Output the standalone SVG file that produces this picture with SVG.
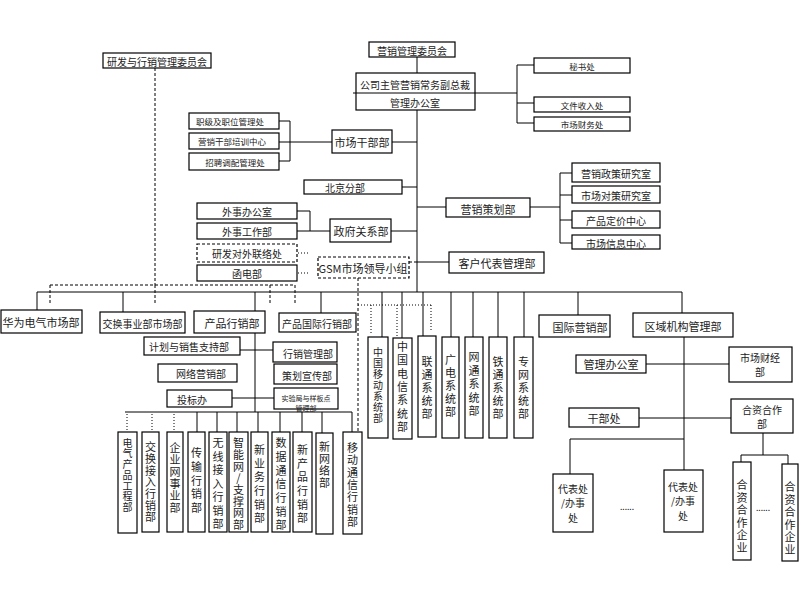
<svg xmlns="http://www.w3.org/2000/svg" width="800" height="600" viewBox="0 0 800 600">
<style>
.b{fill:#fff;stroke:#000;stroke-width:1.2}
.d{fill:#fff;stroke:#000;stroke-width:1.2;stroke-dasharray:3 2}
.l{fill:none;stroke:#000;stroke-width:1}
.dl{fill:none;stroke:#000;stroke-width:1;stroke-dasharray:3 2}
.dt{fill:none;stroke:#000;stroke-width:1;stroke-dasharray:1 2}
text{font-family:"Noto Sans CJK SC","Liberation Sans",sans-serif;fill:#222;text-anchor:middle;dominant-baseline:central}
text.v{writing-mode:vertical-rl;text-orientation:upright;text-anchor:start}
.s8{font-size:8.5px}
.s10{font-size:10px}
.s11{font-size:11px}
.s7{font-size:7px}
</style>
<rect width="800" height="600" fill="#fff"/>

<g id="connectors">
  <path class="dl" d="M155,68 V285 M50,285 H295 M50,285 V303 M155,285 V303 M270,285 V303 M295,285 V303"/>
  <path class="l" d="M417,57 V73 M417,110 V292"/>
  <path class="l" d="M353,93 H356 M475,93 H517 M517,65 V123 M517,65 H534 M517,103 H534 M517,123 H534"/>
  <path class="l" d="M392,142 H417 M279,142 H332 M290,121 V161 M279,121 H290 M279,161 H290"/>
  <path class="l" d="M402,187 H417"/>
  <path class="l" d="M417,207 H446 M530,207 H560 M560,173 V243 M560,173 H572 M560,195 H572 M560,220 H572 M560,243 H572"/>
  <path class="l" d="M391,231 H417 M297,231 H330 M310,211 V231 M297,211 H310"/>
  <path class="dt" d="M298,253 H310 M298,273 H310"/>
  <path class="dl" d="M409,262 H417 M358,278 V432"/>
  <path class="l" d="M417,262 H449"/>
  <path class="l" d="M37,292 H682 M37,292 V310 M123,292 V312 M255,292 V311 M321,292 V313 M382,292 V337 M402,292 V338 M423,292 V336 M451,292 V337 M473,292 V337 M498,292 V337 M524,292 V337 M578,292 V315 M682,292 V313"/>
  <path class="dt" d="M358,305 H432 M371,305 V334 M397,305 V337 M431,305 V330"/>
  <path class="l" d="M255,333 V412 M240,350 H273 M232,398 H274 M125,412 H352"/>
  <path class="l" d="M197,412 V432 M217,412 V432 M237,412 V432 M258,412 V432 M280,412 V432 M302,412 V432 M322,412 V433 M352,412 V432"/>
  <path class="dt" d="M127,414 V432 M152,414 V432 M174,414 V432"/>
  <path class="l" d="M684,337 V470 M646,364 H729 M639,418 H731 M570,439 H684 M570,439 V474"/>
  <path class="l" d="M763,433 V455 M741,455 H788 M741,455 V462 M788,455 V464"/>
</g>

<g id="n_rd_committee"><rect class="b" x="103" y="53" width="108" height="15"/><text class="s10" x="157" y="61">研发与行销管理委员会</text></g>
<g id="n_mkt_committee"><rect class="b" x="369" y="42" width="86" height="15"/><text class="s10" x="412" y="50">营销管理委员会</text></g>
<g id="n_vp"><rect class="b" x="356" y="73" width="119" height="37"/><line class="l" x1="356" y1="93" x2="475" y2="93"/><text class="s10" x="415" y="84">公司主管营销常务副总裁</text><text class="s10" x="415" y="102">管理办公室</text></g>
<g id="n_secretary"><rect class="b" x="534" y="58" width="96" height="15"/><text class="s8" x="582" y="66">秘书处</text></g>
<g id="n_docs"><rect class="b" x="534" y="97" width="96" height="15"/><text class="s8" x="582" y="105">文件收入处</text></g>
<g id="n_finance_office"><rect class="b" x="534" y="117" width="96" height="14"/><text class="s8" x="582" y="124">市场财务处</text></g>

<g id="n_rank"><rect class="b" x="189" y="113" width="90" height="16"/><text class="s8" x="230" y="121">职级及职位管理处</text></g>
<g id="n_training"><rect class="b" x="189" y="133" width="90" height="16"/><text class="s8" x="232" y="141">营销干部培训中心</text></g>
<g id="n_recruit"><rect class="b" x="189" y="153" width="90" height="17"/><text class="s8" x="235" y="162">招聘调配管理处</text></g>
<g id="n_cadre"><rect class="b" x="332" y="130" width="60" height="23"/><text class="s11" x="362" y="142">市场干部部</text></g>
<g id="n_beijing"><rect class="b" x="304" y="180" width="98" height="14"/><text class="s10" x="345" y="187">北京分部</text></g>
<g id="n_planning"><rect class="b" x="446" y="198" width="84" height="19"/><text class="s11" x="488" y="209">营销策划部</text></g>
<g id="n_policy"><rect class="b" x="572" y="163" width="88" height="19"/><text class="s10" x="616" y="173">营销政策研究室</text></g>
<g id="n_strategy"><rect class="b" x="572" y="186" width="88" height="17"/><text class="s10" x="616" y="195">市场对策研究室</text></g>
<g id="n_pricing"><rect class="b" x="572" y="211" width="88" height="17"/><text class="s10" x="616" y="220">产品定价中心</text></g>
<g id="n_info"><rect class="b" x="572" y="235" width="88" height="14"/><text class="s10" x="616" y="243">市场信息中心</text></g>
<g id="n_foreign_office"><rect class="b" x="197" y="203" width="100" height="16"/><text class="s10" x="247" y="211">外事办公室</text></g>
<g id="n_foreign_work"><rect class="b" x="197" y="223" width="100" height="16"/><text class="s10" x="247" y="231">外事工作部</text></g>
<g id="n_rd_liaison"><rect class="d" x="197" y="244" width="100" height="18"/><text class="s10" x="247" y="253">研发对外联络处</text></g>
<g id="n_mail"><rect class="b" x="197" y="265" width="100" height="16"/><text class="s10" x="247" y="273">函电部</text></g>
<g id="n_gov"><rect class="b" x="330" y="219" width="61" height="23"/><text class="s11" x="361" y="231">政府关系部</text></g>
<g id="n_gsm"><rect class="d" x="318" y="257" width="91" height="21"/><text class="s11" x="363" y="268">GSM市场领导小组</text></g>
<g id="n_customer"><rect class="b" x="449" y="252" width="95" height="21"/><text class="s11" x="497" y="263">客户代表管理部</text></g>

<g id="n_huawei_elec"><rect class="b" x="1" y="310" width="81" height="23"/><text class="s11" x="41" y="322">华为电气市场部</text></g>
<g id="n_switch_mkt"><rect class="b" x="100" y="312" width="85" height="21"/><text class="s10" x="142.5" y="323">交换事业部市场部</text></g>
<g id="n_product"><rect class="b" x="194" y="311" width="71" height="22"/><text class="s11" x="232" y="323">产品行销部</text></g>
<g id="n_product_intl"><rect class="b" x="279" y="313" width="77" height="19"/><text class="s10" x="317" y="323">产品国际行销部</text></g>
<g id="n_intl"><rect class="b" x="539" y="315" width="71" height="22"/><text class="s11" x="580" y="327">国际营销部</text></g>
<g id="n_regional"><rect class="b" x="633" y="313" width="100" height="24"/><text class="s11" x="683" y="326">区域机构管理部</text></g>

<g id="n_plan_support"><rect class="b" x="144" y="337" width="96" height="18"/><text class="s10" x="189" y="346">计划与销售支持部</text></g>
<g id="n_mkt_mgmt"><rect class="b" x="273" y="342" width="64" height="20"/><text class="s10" x="308" y="353">行销管理部</text></g>
<g id="n_net_mkt"><rect class="b" x="158" y="364" width="79" height="18"/><text class="s10" x="201" y="373">网络营销部</text></g>
<g id="n_promo"><rect class="b" x="274" y="364" width="63" height="20"/><text class="s10" x="307" y="375">策划宣传部</text></g>
<g id="n_bid"><rect class="b" x="167" y="390" width="65" height="17"/><text class="s10" x="192" y="399">投标办</text></g>
<g id="n_pilot"><rect class="b" x="274" y="388" width="64" height="21"/><text class="s7" x="306" y="398">实验局与样板点</text><text class="s7" x="306" y="408.3">管理部</text></g>

<g id="n_v1"><rect class="b" x="118" y="432" width="19" height="101"/><text class="s10 v" x="127.5" y="438" letter-spacing="0.7">电气产品工程部</text></g>
<g id="n_v2"><rect class="b" x="142" y="432" width="17" height="100"/><text class="s11 v" x="150.5" y="441.5" letter-spacing="0.7">交换接入行销部</text></g>
<g id="n_v3"><rect class="b" x="167" y="432" width="16" height="100"/><text class="s11 v" x="175" y="442.5" letter-spacing="1">企业网事业部</text></g>
<g id="n_v4"><rect class="b" x="188" y="432" width="17" height="100"/><text class="s11 v" x="196.5" y="447.5" letter-spacing="2.7">传输行销部</text></g>
<g id="n_v5"><rect class="b" x="209" y="432" width="18" height="100"/><text class="s11 v" x="218" y="437.5" letter-spacing="2.5">无线接入行销部</text></g>
<g id="n_v6"><rect class="b" x="229" y="432" width="19" height="100"/><text class="s11 v" x="238.5" y="437.5" letter-spacing="0.7">智能网/支撑网部</text></g>
<g id="n_v7"><rect class="b" x="251" y="432" width="17" height="100"/><text class="s11 v" x="259.5" y="444.5" letter-spacing="2.6">新业务行销部</text></g>
<g id="n_v8"><rect class="b" x="272" y="432" width="18" height="100"/><text class="s11 v" x="281" y="437.5" letter-spacing="2.7">数据通信行销部</text></g>
<g id="n_v9"><rect class="b" x="293" y="432" width="19" height="100"/><text class="s11 v" x="302.5" y="444.5" letter-spacing="2.6">新产品行销部</text></g>
<g id="n_v10"><rect class="b" x="316" y="433" width="17" height="101"/><text class="s11 v" x="324.5" y="441.5" letter-spacing="1">新网络部</text></g>
<g id="n_v11"><rect class="b" x="343" y="432" width="19" height="102"/><text class="s11 v" x="352.5" y="442.5" letter-spacing="1.3">移动通信行销部</text></g>

<g id="n_s1"><rect class="b" x="368" y="337" width="20" height="101"/><text class="s10 v" x="378" y="347" letter-spacing="1">中国移动系统部</text></g>
<g id="n_s2"><rect class="b" x="393" y="338" width="19" height="101"/><text class="s11 v" x="402.5" y="341.5" letter-spacing="2.3">中国电信系统部</text></g>
<g id="n_s3"><rect class="b" x="418" y="336" width="18" height="101"/><text class="s11 v" x="427" y="356.5" letter-spacing="2">联通系统部</text></g>
<g id="n_s4"><rect class="b" x="442" y="337" width="17" height="101"/><text class="s11 v" x="450.5" y="354.5" letter-spacing="2">广电系统部</text></g>
<g id="n_s5"><rect class="b" x="465" y="337" width="18" height="101"/><text class="s11 v" x="474" y="351.5" letter-spacing="2.5">网通系统部</text></g>
<g id="n_s6"><rect class="b" x="489" y="337" width="18" height="101"/><text class="s11 v" x="498" y="356.5" letter-spacing="2">铁通系统部</text></g>
<g id="n_s7"><rect class="b" x="514" y="337" width="19" height="101"/><text class="s11 v" x="523.5" y="356.5" letter-spacing="2">专网系统部</text></g>

<g id="n_admin"><rect class="b" x="576" y="355" width="70" height="18"/><text class="s11" x="611" y="364">管理办公室</text></g>
<g id="n_mkt_fin"><rect class="b" x="729" y="347" width="63" height="35"/><text class="s10" x="760" y="357">市场财经</text><text class="s10" x="760" y="371.5">部</text></g>
<g id="n_cadre_office"><rect class="b" x="569" y="408" width="70" height="19"/><text class="s11" x="604" y="418">干部处</text></g>
<g id="n_jv"><rect class="b" x="731" y="399" width="62" height="34"/><text class="s10" x="762" y="409">合资合作</text><text class="s10" x="762" y="423.5">部</text></g>
<g id="n_rep1"><rect class="b" x="553" y="474" width="40" height="58"/><text class="s10" x="573" y="488">代表处</text><text class="s10" x="573" y="502.5">/办事</text><text class="s10" x="573" y="517">处</text></g>
<g id="n_rep2"><rect class="b" x="664" y="470" width="39" height="62"/><text class="s10" x="683" y="486">代表处</text><text class="s10" x="683" y="500.5">/办事</text><text class="s10" x="683" y="515">处</text></g>
<g id="n_jve1"><rect class="b" x="733" y="462" width="18" height="98"/><text class="s11 v" x="742" y="479.5" letter-spacing="1.5">合资合作企业</text></g>
<g id="n_jve2"><rect class="b" x="782" y="464" width="16" height="97"/><text class="s11 v" x="790" y="481.5" letter-spacing="1.5">合资合作企业</text></g>
<text class="s8" x="627" y="506">......</text>
<text class="s8" x="763" y="507">......</text>
</svg>
